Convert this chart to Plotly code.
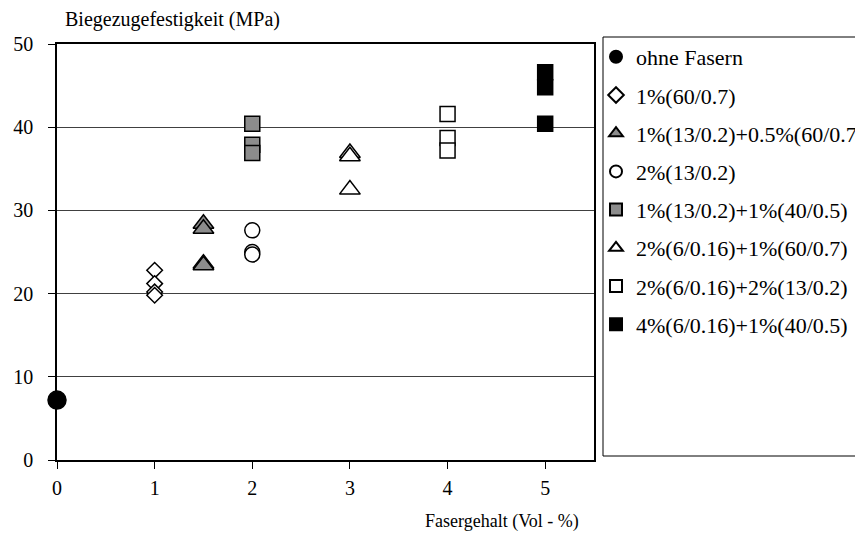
import plotly.graph_objects as go

# ---- data ----
names = [
    "ohne Fasern",
    "1%(60/0.7)",
    "1%(13/0.2)+0.5%(60/0.7)",
    "2%(13/0.2)",
    "1%(13/0.2)+1%(40/0.5)",
    "2%(6/0.16)+1%(60/0.7)",
    "2%(6/0.16)+2%(13/0.2)",
    "4%(6/0.16)+1%(40/0.5)",
]
x_ohne = [0]
y_ohne = [7.2]
x_s1 = [1, 1, 1, 1]
y_s1 = [22.8, 21.2, 20.2, 19.8]
x_s2 = [1.5, 1.5, 1.5, 1.5]
y_s2 = [28.4, 27.8, 23.6, 23.4]
x_s3 = [2, 2, 2]
y_s3 = [27.6, 25.0, 24.7]
x_s4 = [2, 2, 2]
y_s4 = [40.4, 37.9, 36.9]
x_s5 = [3, 3, 3]
y_s5 = [36.9, 36.5, 32.5]
x_s6 = [4, 4, 4]
y_s6 = [41.6, 38.7, 37.2]
x_s7 = [5, 5, 5]
y_s7 = [46.6, 44.8, 40.4]

x_ticks = [0, 1, 2, 3, 4, 5]
y_ticks = [0, 10, 20, 30, 40, 50]
y_title = "Biegezugefestigkeit (MPa)"
x_title = "Fasergehalt (Vol - %)"

xs = [x_ohne, x_s1, x_s2, x_s3, x_s4, x_s5, x_s6, x_s7]
ys = [y_ohne, y_s1, y_s2, y_s3, y_s4, y_s5, y_s6, y_s7]

# ---- styles ----
GREY = "#8c8c8c"
styles = [
    dict(symbol="circle", size=18, color="black"),
    dict(symbol="diamond", size=12, color="white"),
    dict(symbol="triangle-up", size=18, color=GREY),
    dict(symbol="circle", size=15, color="white"),
    dict(symbol="square", size=15, color=GREY),
    dict(symbol="triangle-up", size=18, color="white"),
    dict(symbol="square", size=15, color="white"),
    dict(symbol="square", size=15, color="black"),
]

FONT = "Liberation Serif"

fig = go.Figure()
for i, (n, x, y, st) in enumerate(zip(names, xs, ys, styles)):
    fig.add_trace(go.Scatter(
        x=x, y=y, mode="markers", name=n,
        legendgroup=f"g{i}",
        cliponaxis=False,
        marker=dict(symbol=st["symbol"], size=st["size"], color=st["color"],
                    line=dict(color="black", width=1.5)),
    ))

# the page body adds an 8 px margin, so the figure is drawn 8 px smaller
OFF = 8
W, H = 863 - OFF, 536 - OFF
L, T = 57 - OFF, 44 - OFF
R = W - (594 - OFF)
B = H - (460 - OFF)
pw = W - L - R
ph = H - T - B

def px_x(p):  # page pixel -> paper
    return (p - OFF - L) / pw

def px_y(p):
    return (H - B - (p - OFF)) / ph

fig.update_layout(
    width=W, height=H,
    margin=dict(l=L, r=R, t=T, b=B, autoexpand=False),
    paper_bgcolor="white", plot_bgcolor="white",
    font=dict(family=FONT, color="black", size=20),
    showlegend=True,
    legend=dict(
        x=px_x(596), y=px_y(36), xanchor="left", yanchor="top",
        font=dict(family=FONT, size=22, color="black"),
        bgcolor="rgba(0,0,0,0)", borderwidth=0,
        itemsizing="constant", traceorder="grouped", tracegroupgap=6.6,
        maxheight=500,
    ),
    xaxis=dict(
        range=[0, 5.5], tickvals=x_ticks, ticktext=[str(v) for v in x_ticks],
        showgrid=False, zeroline=False,
        showline=True, linecolor="black", linewidth=1.5, mirror=True,
        ticks="outside", ticklen=7, tickcolor="black", tickwidth=1,
        ticklabelstandoff=2,
        tickfont=dict(family=FONT, size=20, color="black"),
    ),
    yaxis=dict(
        range=[0, 50], tickvals=y_ticks, ticktext=[str(v) for v in y_ticks],
        showgrid=True, gridcolor="#404040", gridwidth=1, zeroline=False,
        showline=True, linecolor="black", linewidth=1.5, mirror=True,
        ticks="outside", ticklen=7, tickcolor="black", tickwidth=1,
        ticklabelstandoff=11,
        tickfont=dict(family=FONT, size=20, color="black"),
    ),
    shapes=[dict(
        type="rect", xref="paper", yref="paper",
        x0=px_x(603), x1=px_x(880), y0=px_y(456), y1=px_y(37),
        line=dict(color="black", width=1), fillcolor="rgba(0,0,0,0)",
        layer="below",
    )],
    annotations=[
        dict(text=y_title, xref="paper", yref="paper",
             x=px_x(63), y=px_y(33), xanchor="left", yanchor="bottom",
             showarrow=False, font=dict(family=FONT, size=20, color="black")),
        dict(text=x_title, xref="paper", yref="paper",
             x=px_x(502), y=px_y(521), xanchor="center", yanchor="middle",
             showarrow=False, font=dict(family=FONT, size=18, color="black")),
    ],
)

fig.write_html("out.html")
